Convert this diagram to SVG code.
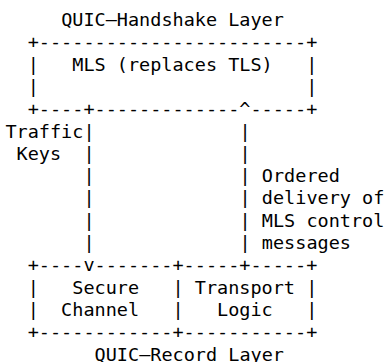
<svg xmlns="http://www.w3.org/2000/svg" width="386" height="362" viewBox="0 0 386 362">
<style>
text{font-family:"DejaVu Sans Mono","Liberation Mono",monospace;font-size:18.5px;fill:#000;white-space:pre}
</style>
<rect width="386" height="362" fill="#fff"/>
<g id="handshake-layer">
<text x="61.15" y="26">QUIC–Handshake Layer</text>
<text x="27.7" y="48.3">+------------------------+</text>
<text x="27.7" y="70.6">|   MLS (replaces TLS)   |</text>
<text x="27.7" y="92.9">|                        |</text>
<text x="27.7" y="115.2">+----+-------------^-----+</text>
</g>
<g id="connectors">
<text x="5.4" y="137.5">Traffic</text>
<text x="16.55" y="159.8">Keys</text>
<text x="83.45" y="137.5">|</text>
<text x="83.45" y="159.8">|</text>
<text x="83.45" y="182.1">|</text>
<text x="83.45" y="204.4">|</text>
<text x="83.45" y="226.7">|</text>
<text x="83.45" y="249">|</text>
<text x="239.55" y="137.5">|</text>
<text x="239.55" y="159.8">|</text>
<text x="239.55" y="182.1">|</text>
<text x="239.55" y="204.4">|</text>
<text x="239.55" y="226.7">|</text>
<text x="239.55" y="249">|</text>
<text x="261.85" y="182.1">Ordered</text>
<text x="261.85" y="204.4">delivery of</text>
<text x="261.85" y="226.7">MLS control</text>
<text x="261.85" y="249">messages</text>
</g>
<g id="record-layer">
<text x="27.7" y="271.3">+----v-------+-----+-----+</text>
<text x="27.7" y="293.6">|   Secure   | Transport |</text>
<text x="27.7" y="315.9">|  Channel   |   Logic   |</text>
<text x="27.7" y="338.2">+------------+-----------+</text>
<text x="94.6" y="360.5">QUIC–Record Layer</text>
</g>
</svg>
